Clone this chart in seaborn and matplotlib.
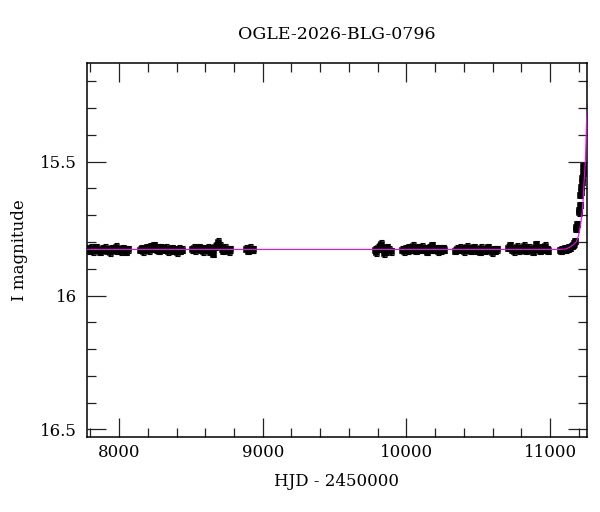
import numpy as np
import pandas as pd
import matplotlib
matplotlib.use("Agg")
import matplotlib.pyplot as plt
from matplotlib.ticker import MultipleLocator
import seaborn as sns

# OGLE photometry, one list per observing season (HJD - 2450000, I mag)
t_s1 = [7782, 7794, 7806, 7817, 7829, 7841, 7853, 7866, 7878, 7890, 7902, 7915,
        7927, 7939, 7951, 7964, 7976, 7988, 8000, 8013, 8025, 8037, 8049, 8061]
m_s1 = [15.826, 15.831, 15.822, 15.834, 15.828, 15.819, 15.830, 15.836, 15.825,
        15.829, 15.821, 15.833, 15.827, 15.838, 15.824, 15.830, 15.818, 15.832,
        15.829, 15.835, 15.823, 15.831, 15.837, 15.828]

t_s2 = [8146, 8158, 8170, 8183, 8195, 8207, 8219, 8231, 8243, 8256, 8268, 8280,
        8292, 8304, 8317, 8329, 8341, 8353, 8366, 8378, 8390, 8402, 8415, 8427, 8440]
m_s2 = [15.829, 15.823, 15.834, 15.827, 15.820, 15.831, 15.816, 15.825, 15.812,
        15.828, 15.819, 15.833, 15.822, 15.826, 15.830, 15.821, 15.835, 15.827,
        15.824, 15.832, 15.829, 15.838, 15.826, 15.833, 15.829]

t_s3 = [8508, 8520, 8532, 8545, 8557, 8569, 8581, 8594, 8606, 8618, 8630, 8643,
        8655, 8667, 8679, 8690, 8702, 8714, 8727, 8739, 8751, 8763, 8775]
m_s3 = [15.827, 15.822, 15.831, 15.825, 15.819, 15.829, 15.834, 15.823, 15.828,
        15.821, 15.836, 15.826, 15.845, 15.818, 15.810, 15.800, 15.815, 15.826,
        15.832, 15.822, 15.829, 15.835, 15.827]

t_s4 = [8885, 8898, 8910, 8922, 8934]
m_s4 = [15.826, 15.833, 15.821, 15.830, 15.828]

t_s5 = [9782, 9792, 9803, 9813, 9824, 9835, 9846, 9857, 9868, 9879, 9890]
m_s5 = [15.830, 15.838, 15.822, 15.815, 15.808, 15.826, 15.842, 15.833, 15.820,
        15.829, 15.835]

t_s6 = [9972, 9984, 9996, 10009, 10021, 10033, 10045, 10058, 10070, 10082, 10094,
        10107, 10119, 10131, 10143, 10156, 10168, 10180, 10192, 10205, 10217, 10229,
        10241, 10254, 10265]
m_s6 = [15.829, 15.834, 15.824, 15.831, 15.820, 15.828, 15.814, 15.826, 15.833,
        15.822, 15.829, 15.818, 15.830, 15.825, 15.836, 15.821, 15.827, 15.812,
        15.829, 15.823, 15.834, 15.826, 15.831, 15.824, 15.829]

t_s7 = [10338, 10350, 10362, 10375, 10387, 10399, 10411, 10424, 10436, 10448,
        10460, 10473, 10485, 10497, 10509, 10522, 10534, 10546, 10558, 10571,
        10583, 10595, 10607, 10620, 10632]
m_s7 = [15.833, 15.826, 15.830, 15.821, 15.828, 15.835, 15.824, 15.818, 15.829,
        15.832, 15.825, 15.820, 15.831, 15.827, 15.836, 15.822, 15.829, 15.833,
        15.826, 15.819, 15.830, 15.838, 15.827, 15.832, 15.828]

t_s8 = [10709, 10721, 10733, 10746, 10758, 10770, 10782, 10795, 10807, 10819,
        10831, 10844, 10856, 10868, 10880, 10893, 10905, 10917, 10929, 10942,
        10954, 10966, 10978, 10988]
m_s8 = [15.822, 15.812, 15.829, 15.835, 15.826, 15.818, 15.831, 15.824, 15.828,
        15.814, 15.833, 15.827, 15.821, 15.830, 15.836, 15.823, 15.808, 15.826,
        15.832, 15.820, 15.829, 15.815, 15.827, 15.833]

t_s9 = [11068, 11076, 11085, 11093, 11101, 11110, 11118, 11126, 11134, 11142,
        11150, 11158, 11166, 11172, 11178, 11184, 11189, 11200, 11203, 11206,
        11211, 11214, 11218, 11221, 11224, 11227, 11230]
m_s9 = [15.829, 15.832, 15.826, 15.830, 15.824, 15.828, 15.822, 15.825, 15.819,
        15.821, 15.815, 15.812, 15.805, 15.797, 15.752, 15.745, 15.733, 15.690,
        15.680, 15.662, 15.625, 15.612, 15.595, 15.575, 15.560, 15.540, 15.518]

season_err = [0.013, 0.013, 0.013, 0.013, 0.014, 0.013, 0.013, 0.013, 0.012]

# fitted microlensing model
t_model = [7700, 11000, 11067, 11110, 11137, 11163, 11183, 11196, 11206, 11216,
           11225, 11231, 11236, 11241, 11246, 11250, 11253, 11260]
m_model = [15.828, 15.828, 15.828, 15.826, 15.820, 15.810, 15.799, 15.780, 15.756,
           15.722, 15.681, 15.635, 15.581, 15.540, 15.494, 15.430, 15.360, 15.300]

seasons_t = [t_s1, t_s2, t_s3, t_s4, t_s5, t_s6, t_s7, t_s8, t_s9]
seasons_m = [m_s1, m_s2, m_s3, m_s4, m_s5, m_s6, m_s7, m_s8, m_s9]
rows = []
for tt, mm, ee in zip(seasons_t, seasons_m, season_err):
    for a, b in zip(tt, mm):
        rows.append((a, b, ee))
phot = pd.DataFrame(rows, columns=["hjd", "mag", "err"])
model = pd.DataFrame({"hjd": t_model, "mag": m_model})

sns.set_style("ticks")
plt.rcParams["font.family"] = ["DejaVu Serif"]
plt.rcParams["text.color"] = "black"
plt.rcParams["axes.labelcolor"] = "black"
plt.rcParams["xtick.color"] = "black"
plt.rcParams["ytick.color"] = "black"

fig = plt.figure(figsize=(6, 5.12), dpi=100)
ax = fig.add_axes([0.145, 0.1465, 0.8333, 0.731])

ax.errorbar(phot["hjd"], phot["mag"], yerr=phot["err"], fmt="none",
            ecolor="black", elinewidth=1.1, capsize=1.8, capthick=0.8, zorder=2)
sns.scatterplot(data=phot, x="hjd", y="mag", marker="s", s=20, color="black",
                edgecolor="black", linewidth=0.4, ax=ax, zorder=3)
sns.lineplot(data=model, x="hjd", y="mag", color="#ff00ff", linewidth=0.8,
             estimator=None, ax=ax, zorder=4)

ax.set_xlim(7777, 11257)
ax.set_ylim(16.528, 15.131)

ax.xaxis.set_major_locator(MultipleLocator(1000))
ax.xaxis.set_minor_locator(MultipleLocator(200))
ax.yaxis.set_minor_locator(MultipleLocator(0.1))
ax.set_yticks([15.5, 16.0, 16.5])
ax.set_yticklabels(["15.5", "16", "16.5"])

ax.tick_params(which="both", direction="in", top=True, right=True,
               color="#222222", width=0.9, labelsize=12, labelcolor="black")
ax.tick_params(which="major", length=13.5)
ax.tick_params(which="minor", length=6.5)
ax.tick_params(axis="y", pad=7)
ax.tick_params(axis="x", pad=5)

for sp in ax.spines.values():
    sp.set_linewidth(1.1)
    sp.set_color("black")

ax.set_xlabel("HJD - 2450000", fontsize=12, labelpad=9, color="black")
ax.set_ylabel("I magnitude", fontsize=12, labelpad=9, color="black")
ax.set_title("OGLE-2026-BLG-0796", fontsize=12.5, pad=17, color="black")

fig.savefig("out.png", dpi=100)
